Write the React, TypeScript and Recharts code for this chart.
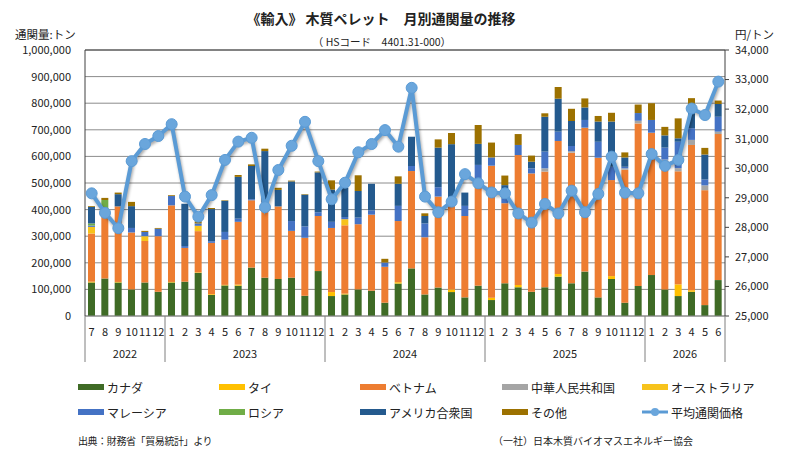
import { Bar, CartesianGrid, ComposedChart, Line, ReferenceLine, XAxis, YAxis } from "recharts";

const FONT = '"Noto Sans CJK JP", "Noto Sans", sans-serif';

const periods = [
  "2022/7", "2022/8", "2022/9", "2022/10", "2022/11", "2022/12",
  "2023/1", "2023/2", "2023/3", "2023/4", "2023/5", "2023/6",
  "2023/7", "2023/8", "2023/9", "2023/10", "2023/11", "2023/12",
  "2024/1", "2024/2", "2024/3", "2024/4", "2024/5", "2024/6",
  "2024/7", "2024/8", "2024/9", "2024/10", "2024/11", "2024/12",
  "2025/1", "2025/2", "2025/3", "2025/4", "2025/5", "2025/6",
  "2025/7", "2025/8", "2025/9", "2025/10", "2025/11", "2025/12",
  "2026/1", "2026/2", "2026/3", "2026/4", "2026/5", "2026/6",
];

// 通関量 (トン)
const canada = [
  126000, 141000, 126000, 100000, 126000, 91000,
  126000, 129000, 162000, 79000, 115000, 114000, 182000, 144000, 139000, 144000, 76000, 169000,
  75000, 81000, 100000, 95000, 50000, 122000, 179000, 81000, 107000, 90000, 70000, 114000,
  60000, 123000, 108000, 91000, 108000, 148000, 123000, 167000, 70000, 139000, 50000, 113000,
  154000, 100000, 75000, 91000, 41000, 135000,
];
const thai = [
  3000, 0, 2000, 0, 0, 0,
  2000, 0, 2000, 3000, 2000, 4000, 0, 0, 0, 0, 0, 0,
  15000, 3000, 0, 0, 0, 5000, 0, 0, 0, 10000, 0, 0,
  9000, 0, 9000, 0, 0, 10000, 0, 0, 0, 11000, 0, 0,
  0, 0, 44000, 6000, 0, 0,
];
const vietnam = [
  181000, 255000, 284000, 214000, 156000, 209000,
  288000, 127000, 155000, 193000, 170000, 236000, 253000, 256000, 273000, 176000, 218000, 207000,
  241000, 257000, 245000, 286000, 135000, 230000, 366000, 215000, 342000, 323000, 306000, 391000,
  496000, 301000, 488000, 445000, 435000, 500000, 491000, 541000, 525000, 361000, 500000, 611000,
  535000, 483000, 425000, 546000, 432000, 549000,
];
const china = [
  0, 0, 0, 0, 0, 0,
  0, 0, 0, 0, 0, 0, 0, 0, 0, 0, 0, 0,
  0, 0, 0, 0, 0, 0, 0, 0, 0, 0, 0, 0,
  0, 0, 0, 0, 12000, 0, 6000, 0, 0, 0, 5000, 10000,
  0, 5000, 12000, 19000, 18000, 9000,
];
const australia = [
  25000, 0, 0, 0, 18000, 0,
  0, 0, 20000, 0, 0, 0, 0, 18000, 0, 0, 0, 0,
  0, 23000, 0, 0, 0, 0, 0, 0, 0, 0, 0, 0,
  0, 0, 0, 0, 0, 0, 0, 0, 0, 0, 0, 0,
  0, 0, 0, 0, 0, 0,
];
const malaysia = [
  5000, 0, 0, 17000, 16000, 28000,
  35000, 7000, 9000, 6000, 29000, 12000, 4000, 10000, 0, 37000, 43000, 14000,
  23000, 8000, 25000, 16000, 16000, 57000, 19000, 52000, 35000, 0, 38000, 63000,
  31000, 18000, 38000, 19000, 63000, 35000, 19000, 29000, 60000, 50000, 6000, 29000,
  48000, 45000, 99000, 44000, 22000, 56000,
];
const russia = [
  8000, 40000, 0, 0, 0, 0,
  0, 0, 0, 0, 0, 0, 0, 0, 0, 0, 0, 0,
  0, 0, 0, 0, 0, 0, 0, 0, 0, 0, 0, 0,
  0, 0, 0, 0, 0, 0, 0, 0, 0, 0, 0, 0,
  0, 0, 0, 0, 0, 0,
];
const usa = [
  62000, 0, 46000, 82000, 0, 0,
  0, 159000, 0, 121000, 117000, 157000, 125000, 192000, 62000, 149000, 119000, 150000,
  121000, 110000, 100000, 100000, 0, 83000, 110000, 28000, 149000, 223000, 50000, 79000,
  0, 50000, 0, 25000, 131000, 124000, 94000, 47000, 76000, 170000, 35000, 0,
  0, 46000, 13000, 84000, 94000, 48000,
];
const other = [
  3000, 8000, 6000, 16000, 4000, 3000,
  3000, 0, 8000, 4000, 2000, 7000, 6000, 9000, 8000, 3000, 2000, 3000,
  35000, 0, 59000, 0, 14000, 28000, 0, 10000, 31000, 42000, 0, 71000,
  56000, 36000, 41000, 23000, 13000, 44000, 46000, 34000, 21000, 33000, 19000, 32000,
  63000, 32000, 75000, 29000, 25000, 13000,
];
// 平均通関価格 (円/トン)
const price = [
  29150, 28490, 27970, 30240, 30820, 31090,
  31490, 29040, 28360, 29090, 30280, 30900, 31030, 28680, 29940, 30760, 31570, 30240,
  28950, 29510, 30540, 30820, 31290, 30730, 32720, 29040, 28510, 28870, 29800, 29490,
  29180, 29150, 28470, 28160, 28790, 28470, 29240, 28510, 29130, 30390, 29170, 29150,
  30480, 30080, 30280, 32020, 31800, 32930,
];

const volumeTicks = [0, 100000, 200000, 300000, 400000, 500000, 600000, 700000, 800000, 900000, 1000000];
const priceTicks = [25000, 26000, 27000, 28000, 29000, 30000, 31000, 32000, 33000, 34000];

const series = [
  { key: "canada", name: "カナダ", color: "#3f6b26", values: canada },
  { key: "thai", name: "タイ", color: "#ffc000", values: thai },
  { key: "vietnam", name: "ベトナム", color: "#ed7d31", values: vietnam },
  { key: "china", name: "中華人民共和国", color: "#a5a5a5", values: china },
  { key: "australia", name: "オーストラリア", color: "#f7c31c", values: australia },
  { key: "malaysia", name: "マレーシア", color: "#4472c4", values: malaysia },
  { key: "russia", name: "ロシア", color: "#70ad47", values: russia },
  { key: "usa", name: "アメリカ合衆国", color: "#245a8e", values: usa },
  { key: "other", name: "その他", color: "#9c7100", values: other },
];

const LINE_COLOR = "#5b9bd5";

const data = periods.map((p, i) => {
  const row: Record<string, string | number> = { period: p, price: price[i] };
  series.forEach((s) => {
    row[s.key] = s.values[i];
  });
  return row;
});

const fmt = (v: number) => v.toLocaleString("en-US");

function PeriodTick(props: any) {
  const { x, y, payload, index } = props;
  const band = payload.offset ? payload.offset * 2 : props.width / periods.length;
  const [yr, mo] = String(payload.value).split("/");
  const first = index === 0 || mo === "1";
  const last = index === periods.length - 1;
  const span = periods.filter((p) => p.startsWith(yr + "/")).length;
  const left = x - band / 2;
  return (
    <g>
      <text x={x} y={y + 20} textAnchor="middle" fontSize={11} fill="#222" fontFamily={FONT}>
        {mo}
      </text>
      {first && <line x1={left} x2={left} y1={y} y2={y + 46} stroke="#7f7f7f" />}
      {first && (
        <text x={left + (span * band) / 2} y={y + 42} textAnchor="middle" fontSize={11} fill="#222" fontFamily={FONT}>
          {yr}
        </text>
      )}
      {last && <line x1={x + band / 2} x2={x + band / 2} y1={y} y2={y + 46} stroke="#7f7f7f" />}
    </g>
  );
}

function LegendSwatch({ color, line }: { color: string; line?: boolean }) {
  return (
    <svg width={26} height={10} style={{ marginRight: 3, flex: "none" }}>
      {line ? (
        <>
          <line x1={0} x2={26} y1={5} y2={5} stroke={LINE_COLOR} strokeWidth={3} />
          <circle cx={13} cy={5} r={4} fill="#6aa6dc" />
        </>
      ) : (
        <rect x={0} y={2} width={26} height={6} fill={color} />
      )}
    </svg>
  );
}

const legendCols = [78, 219, 360, 502, 642];
const legendRows = [387, 412];

export default function App() {
  const legendItems = [
    ...series.map((s) => ({ name: s.name, color: s.color, line: false })),
    { name: "平均通関価格", color: LINE_COLOR, line: true },
  ];
  return (
    <div
      style={{
        position: "absolute",
        left: 0,
        top: 0,
        width: 802,
        height: 457,
        background: "#fff",
        fontFamily: FONT,
        color: "#222",
      }}
    >
      <style>{`.price-line .recharts-line-curve, .price-line .recharts-line-dots { filter: drop-shadow(1px 2px 1.5px rgba(0,0,0,0.35)); }`}</style>
      <ComposedChart
        width={802}
        height={457}
        data={data}
        margin={{ top: 50, right: 0, bottom: 91, left: 0 }}
        barSize={7}
      >
        <CartesianGrid vertical={false} stroke="#8c8c8c" yAxisId="left" />
        <XAxis
          dataKey="period"
          interval={0}
          height={50}
          tickSize={0}
          tickMargin={0}
          tick={<PeriodTick />}
          axisLine={{ stroke: "#8c8c8c" }}
        />
        <YAxis
          yAxisId="left"
          width={85}
          domain={[0, 1000000]}
          ticks={volumeTicks}
          tickFormatter={fmt}
          tickLine={false}
          tickSize={0}
          tickMargin={14}
          axisLine={{ stroke: "#404040" }}
          tick={{ fontSize: 11, fill: "#222", fontFamily: FONT }}
        />
        <YAxis
          yAxisId="right"
          orientation="right"
          width={77}
          domain={[25000, 34000]}
          ticks={priceTicks}
          tickFormatter={fmt}
          tickSize={4}
          tickMargin={6}
          tickLine={{ stroke: "#404040" }}
          axisLine={{ stroke: "#404040" }}
          tick={{ fontSize: 11, fill: "#222", fontFamily: FONT, textAnchor: "start" }}
        />
        <ReferenceLine yAxisId="left" y={1000000} stroke="#404040" />
        {series.map((s) => (
          <Bar
            key={s.key}
            dataKey={s.key}
            name={s.name}
            stackId="vol"
            yAxisId="left"
            fill={s.color}
            isAnimationActive={false}
          />
        ))}
        <Line
          className="price-line"
          yAxisId="right"
          dataKey="price"
          name="平均通関価格"
          type="linear"
          stroke={LINE_COLOR}
          strokeWidth={4}
          dot={{ r: 5.5, fill: "#6aa6dc", stroke: LINE_COLOR, strokeWidth: 1 }}
          isAnimationActive={false}
        />
      </ComposedChart>

      <div style={{ position: "absolute", left: 0, width: 762, top: 8, textAlign: "center", fontSize: 14, fontWeight: 700 }}>
        《輸入》 木質ペレット　月別通関量の推移
      </div>
      <div style={{ position: "absolute", left: 0, width: 764, top: 34, textAlign: "center", fontSize: 10.5 }}>
        （ HSコード　4401.31-000）
      </div>
      <div style={{ position: "absolute", left: 15, top: 27, fontSize: 11.5, lineHeight: "14px" }}>通関量:トン</div>
      <div style={{ position: "absolute", left: 735, top: 27, fontSize: 11.5, lineHeight: "14px" }}>円/トン</div>

      {legendItems.map((item, i) => (
        <div
          key={item.name}
          style={{
            position: "absolute",
            left: legendCols[i % 5],
            top: legendRows[Math.floor(i / 5)] - 9,
            height: 18,
            display: "flex",
            alignItems: "center",
            fontSize: 12,
            whiteSpace: "nowrap",
          }}
        >
          <LegendSwatch color={item.color} line={item.line} />
          {item.name}
        </div>
      ))}

      <div style={{ position: "absolute", left: 78, top: 433, fontSize: 10, letterSpacing: -0.4 }}>出典：財務省「貿易統計」より</div>
      <div style={{ position: "absolute", left: 493, top: 433, fontSize: 10 }}>（一社）日本木質バイオマスエネルギー協会</div>
    </div>
  );
}
